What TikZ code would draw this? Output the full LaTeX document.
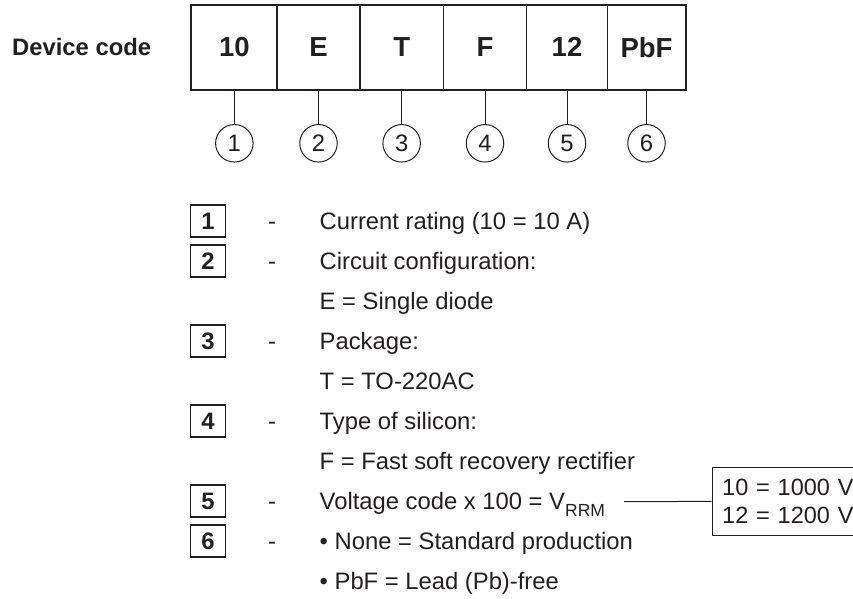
\documentclass[tikz,border=0pt]{standalone}
\usepackage{fontspec}
\setmainfont{Liberation Sans}
\definecolor{ink}{RGB}{35,31,32}
\newcommand{\fsz}{\fontsize{23.8}{28.3}\selectfont}
\newcommand{\cellsz}{\fontsize{27.5}{30}\selectfont}
\begin{document}
\begin{tikzpicture}[x=1pt,y=-1pt,
  every node/.style={text=ink, font=\fsz, inner sep=0pt},
  cell/.style={draw=ink, line width=1.3pt, minimum height=84pt, font=\cellsz\bfseries},
  num/.style={draw=ink, circle, line width=1pt, minimum size=37.5pt},
  keybox/.style={draw=ink, line width=1.9pt, minimum width=35pt, minimum height=32pt, font=\fsz\bfseries},
  lead/.style={draw=ink, line width=1pt},
  txt/.style={anchor=base west},
  dashmark/.style={anchor=base},
]
\clip (0,0) rectangle (853,598);
\node[anchor=base west, font=\fsz\bfseries] (title) at (12,55.5) {Device code};
% code cells
\node[cell, minimum width=85.3pt] (c1) at (234.35,47.3) {10};
\node[cell, minimum width=83pt]   (c2) at (318.5,47.3) {E};
\node[cell, minimum width=83.3pt] (c3) at (401.65,47.3) {T};
\node[cell, minimum width=83.4pt] (c4) at (485,47.3) {F};
\node[cell, minimum width=80.6pt] (c5) at (567,47.3) {12};
\node[cell, minimum width=78.4pt] (c6) at (646.5,47.3) {PbF};
\draw[ink, line width=2pt] (c1.north west) rectangle (c6.south east);
% numbered circles
\foreach \i/\xx in {1/234.35,2/318.5,3/401.65,4/485,5/567,6/646.5}{
  \node[num] (n\i) at (\xx,143.3) {\i};
  \draw[lead] (c\i.south) -- (n\i.north);
}
% legend
\foreach \i/\r in {1/0,2/1,3/3,4/5,5/7,6/8}{
  \node[keybox] (k\i) at (208,221+40*\r) {\i};
  \node[dashmark] (d\i) at (272,229.4+40*\r) {-};
}
\node[txt] (t1) at (319.5,229.4) {Current rating (10 = 10 A)};
\node[txt] (t2) at (319.5,269.4) {Circuit configuration:};
\node[txt] (t2b) at (319.5,309.4) {E = Single diode};
\node[txt] (t3) at (319.5,349.4) {Package:};
\node[txt] (t3b) at (319.5,389.4) {T = TO-220AC};
\node[txt] (t4) at (319.5,429.4) {Type of silicon:};
\node[txt] (t4b) at (319.5,469.4) {F = Fast soft recovery rectifier};
\node[txt] (t5) at (319.5,509.4) {Voltage code x 100 = V\raisebox{-0.3em}{\fontsize{17.5}{17.5}\selectfont RRM}};
\node[txt] (t6) at (319.5,549.4) {\textbullet\ None = Standard production};
\node[txt] (t6b) at (319.5,589.4) {\textbullet\ PbF = Lead (Pb)-free};
% voltage table
\node[draw=ink, line width=1pt, anchor=north west, inner xsep=10pt, text width=140pt,
      minimum height=68.3pt, align=left, font=\fontsize{23.5}{28.3}\selectfont] (vbox) at (711.7,466.7) {10 = 1000 V\\12 = 1200 V};
\coordinate (vstart) at (624,501.7);
\draw[lead] (vstart) -- (vbox.west);
\end{tikzpicture}
\end{document}
